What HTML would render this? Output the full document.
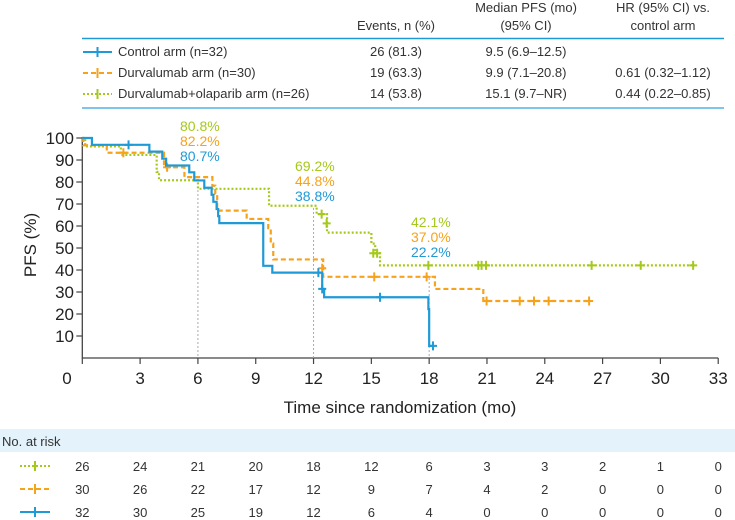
<!DOCTYPE html>
<html><head><meta charset="utf-8">
<style>
body{margin:0;background:#fff;width:735px;height:520px;overflow:hidden;font-family:"Liberation Sans",sans-serif;}
svg{position:absolute;left:0;top:0}
</style></head>
<body>
<svg width="735" height="520">
<g id="legend-table" font-size="13" fill="#333">
  <text x="396" y="30" text-anchor="middle">Events, n (%)</text>
  <text x="526" y="12" text-anchor="middle">Median PFS (mo)</text>
  <text x="526" y="30" text-anchor="middle">(95% CI)</text>
  <text x="663" y="12" text-anchor="middle">HR (95% CI) vs.</text>
  <text x="663" y="30" text-anchor="middle">control arm</text>
  <line x1="82" y1="38.5" x2="724" y2="38.5" stroke="#1f9ad6" stroke-width="1.5"/>
  <line x1="82" y1="108" x2="724" y2="108" stroke="#7fc4ea" stroke-width="2"/>
</g>
<g id="plot"></g>
<g id="risk"></g>
</svg>
<script>
const months=[0,3,6,9,12,15,18,21,24,27,30,33];
const yTicks=[10,20,30,40,50,60,70,80,90,100];
// step data: [time, survival%]
const ctrlT=[0,0.5,3.48,4.15,4.35,5.55,5.81,6.33,6.71,6.8,6.97,7.05,7.11,9.39,9.53,9.86,12.45,12.55,17.96,18.0];
const ctrlS=[100,96.9,93.8,90.6,87.5,84.4,80.7,77.4,74.2,71.0,67.7,64.5,61.3,41.9,41.9,38.8,31.4,27.6,22.2,5.5];
const ctrlEnd=18.2;
const ctrlCensT=[2.4,12.25,12.45,15.45,18.2];
const ctrlCensS=[96.9,38.8,31.4,27.6,5.5];
const durvT=[0,0.05,1.27,4.24,5.3,6.75,6.9,7.0,8.53,9.65,9.78,9.91,12.5,18.3,20.81];
const durvS=[100,96.7,93.3,86.7,82.2,78.3,74.6,67.0,63.2,59.0,52.0,44.8,36.9,31.4,25.9];
const durvEnd=26.3;
const durvCensT=[2.13,4.4,12.45,15.15,17.87,20.98,22.7,23.44,24.2,26.3];
const durvCensS=[93.3,86.7,40.8,36.9,36.9,25.9,25.9,25.9,25.9,25.9];
const combT=[0,0.15,2.0,3.86,3.98,6.0,9.69,12.16,12.7,15.0,15.2,15.45];
const combS=[100,96.2,92.3,84.6,80.8,76.9,69.2,65.4,57.0,52.0,47.6,42.1];
const combEnd=31.7;
const combCensT=[12.42,12.68,15.1,15.3,17.96,20.55,20.72,20.95,26.43,28.98,31.7];
const combCensS=[65.4,61.2,47.6,47.6,42.1,42.1,42.1,42.1,42.1,42.1,42.1];
const landmarkT=[6,12,18];
const landComb=["80.8%","69.2%","42.1%"];
const landDurv=["82.2%","44.8%","37.0%"];
const landCtrl=["80.7%","38.8%","22.2%"];
const riskComb=[26,24,21,20,18,12,6,3,3,2,1,0];
const riskDurv=[30,26,22,17,12,9,7,4,2,0,0,0];
const riskCtrl=[32,30,25,19,12,6,4,0,0,0,0,0];
const armNames=["Control arm (n=32)","Durvalumab arm (n=30)","Durvalumab+olaparib arm (n=26)"];
const armEvents=["26 (81.3)","19 (63.3)","14 (53.8)"];
const armMedian=["9.5 (6.9–12.5)","9.9 (7.1–20.8)","15.1 (9.7–NR)"];
const armHR=["","0.61 (0.32–1.12)","0.44 (0.22–0.85)"];

const BLUE="#1f9ad6",ORANGE="#f7a21b",GREEN="#a5c91a";
const NS="http://www.w3.org/2000/svg";
const X=t=>82.3+t*19.27;
const Y=p=>358-p*2.2;
function mk(tag,attrs,parent){const e=document.createElementNS(NS,tag);for(const k in attrs)e.setAttribute(k,attrs[k]);parent.appendChild(e);return e;}
const plot=document.getElementById('plot');
const risk=document.getElementById('risk');
const leg=document.getElementById('legend-table');
const styles=[{c:BLUE,d:"",w:2.2},{c:ORANGE,d:"5,3",w:2.2},{c:GREEN,d:"2,2",w:2.2}];

// legend table rows
const rowY=[56,77,98];
for(let i=0;i<3;i++){
  const s=styles[i];
  const l=mk('line',{x1:83,y1:rowY[i]-4,x2:112,y2:rowY[i]-4,stroke:s.c,'stroke-width':2,'stroke-dasharray':s.d},leg);
  
  
  mk('line',{x1:97.5,y1:rowY[i]-9,x2:97.5,y2:rowY[i]+1,stroke:s.c,'stroke-width':2},leg);
  const cells=[[armNames[i],118,'start'],[armEvents[i],396,'middle'],[armMedian[i],526,'middle'],[armHR[i],663,'middle']];
  cells.forEach(c=>{const t=mk('text',{x:c[1],y:rowY[i],'text-anchor':c[2]},leg);t.textContent=c[0];
    
    });
}

// axes
const ax=mk('path',{d:`M${X(0)} ${Y(100)-1}V358H${X(33)}`,fill:'none',stroke:'#444','stroke-width':1.3},plot);


yTicks.forEach(v=>{
  mk('line',{x1:X(0)-6,x2:X(0),y1:Y(v),y2:Y(v),stroke:'#444','stroke-width':1.2},plot);
  const t=mk('text',{x:74,y:Y(v)+6,'text-anchor':'end','font-size':17,fill:'#222'},plot);t.textContent=v;
  
  
});
months.forEach(m=>{
  mk('line',{x1:X(m),x2:X(m),y1:358,y2:364,stroke:'#444','stroke-width':1.2},plot);
  const t=mk('text',{x:m===0?67:X(m),y:384,'text-anchor':'middle','font-size':17,fill:'#222'},plot);t.textContent=m;
  
  
});
let xt=mk('text',{x:400,y:413,'text-anchor':'middle','font-size':17,fill:'#222'},plot);xt.textContent="Time since randomization (mo)";


let yt=mk('text',{x:0,y:0,'text-anchor':'middle','font-size':17,fill:'#222',transform:'translate(36,245) rotate(-90)'},plot);yt.textContent="PFS (%)";



// landmark lines
const lmTop=[190,208,278];
landmarkT.forEach((t,i)=>{
  const l=mk('line',{x1:X(t),x2:X(t),y1:lmTop[i],y2:358,stroke:'#aaa','stroke-width':1,'stroke-dasharray':'2,2'},plot);
  
  
});

function curve(T,S,end,cT,cS,s,name){
  let d=`M${X(T[0])} ${Y(S[0])}`;
  for(let i=1;i<T.length;i++){d+=`H${X(T[i])}V${Y(S[i])}`;}
  d+=`H${X(end)}`;
  const p=mk('path',{d,fill:'none',stroke:s.c,'stroke-width':s.w,'stroke-dasharray':s.d},plot);
  
  
  cT.forEach((t,i)=>{
    const g=mk('path',{d:`M${X(t)-4} ${Y(cS[i])}h8M${X(t)} ${Y(cS[i])-4.5}v9`,stroke:s.c,'stroke-width':2},plot);
    
    
  });
}
curve(combT,combS,combEnd,combCensT,combCensS,styles[2],'combo-curve');
curve(durvT,durvS,durvEnd,durvCensT,durvCensS,styles[1],'durvalumab-curve');
curve(ctrlT,ctrlS,ctrlEnd,ctrlCensT,ctrlCensS,styles[0],'control-curve');

// landmark annotations
const lmX=[180,295,411],lmY=[131,171,227];
landmarkT.forEach((t,i)=>{
  [[landComb[i],GREEN],[landDurv[i],ORANGE],[landCtrl[i],BLUE]].forEach((a,j)=>{
    const tx=mk('text',{x:lmX[i],y:lmY[i]+j*15,'font-size':14,fill:a[1]},plot);tx.textContent=a[0];
    
    
  });
});

// at-risk table
const band=mk('rect',{x:0,y:429,width:735,height:23,fill:'#e3f2fb'},risk);


let nt=mk('text',{x:2,y:446,'font-size':13,fill:'#333'},risk);nt.textContent="No. at risk";


const rows=[[riskComb,styles[2],471],[riskDurv,styles[1],494],[riskCtrl,styles[0],517]];
rows.forEach(r=>{
  const s=r[1],y=r[2];
  mk('line',{x1:20,x2:50,y1:y-5,y2:y-5,stroke:s.c,'stroke-width':2,'stroke-dasharray':s.d},risk);
  mk('line',{x1:35,x2:35,y1:y-10,y2:y,stroke:s.c,'stroke-width':2},risk);
  r[0].forEach((v,i)=>{
    const t=mk('text',{x:X(months[i]),y:y,'text-anchor':'middle','font-size':13,fill:'#333'},risk);t.textContent=v;
    
    
  });
});
</script>
</body></html>
